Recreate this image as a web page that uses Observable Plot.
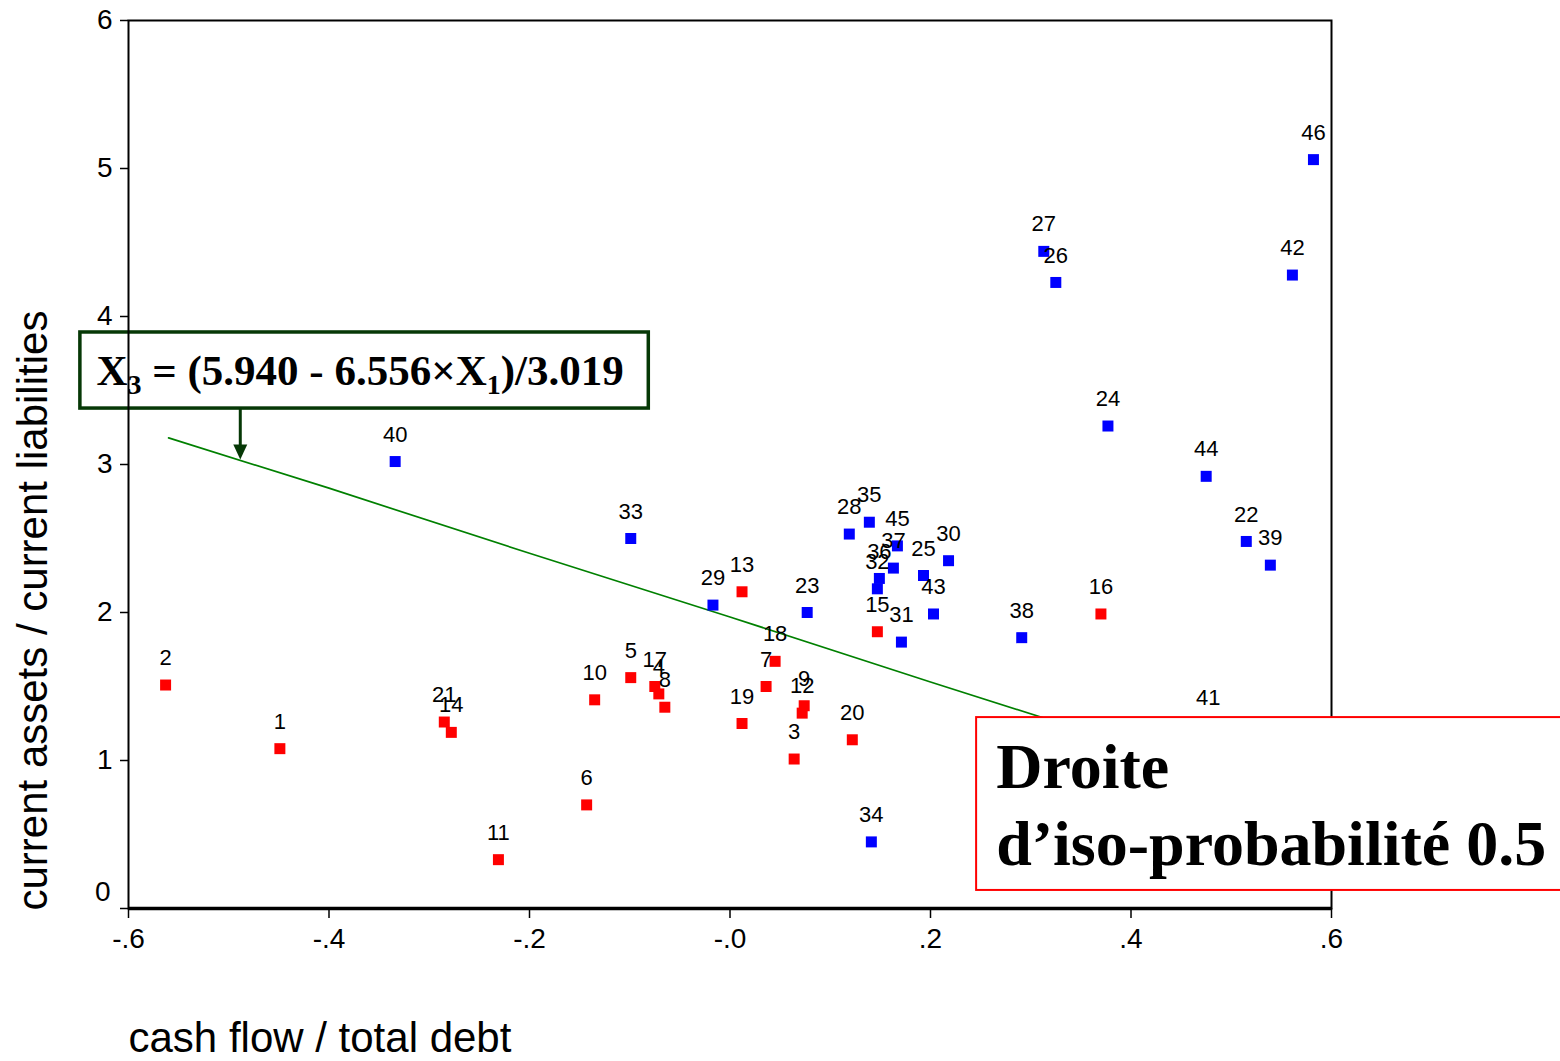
<!DOCTYPE html>
<html><head><meta charset="utf-8">
<script src="https://cdn.jsdelivr.net/npm/d3@7"></script>
<script src="https://cdn.jsdelivr.net/npm/@observablehq/plot@0.6"></script>
<style>html,body{margin:0;padding:0;background:#fff;overflow:hidden}#chart svg{display:block}</style>
</head><body><div id="chart"></div>
<script>
// ---- data ----
const ids = [1,2,3,4,5,6,7,8,9,10,11,12,13,14,15,16,17,18,19,20,21,22,23,24,25,26,27,28,29,30,31,32,33,34,35,36,37,38,39,40,41,42,43,44,45,46];
const xs = [-0.449,-0.563,0.064,-0.071,-0.099,-0.143,0.036,-0.065,0.074,-0.135,-0.231,0.072,0.012,-0.278,0.147,0.370,-0.075,0.045,0.012,0.122,-0.285,
            0.515,0.077,0.377,0.193,0.325,0.313,0.119,-0.017,0.218,0.171,0.147,-0.099,0.141,0.139,0.149,0.163,0.291,0.539,-0.334,0.477,0.561,0.203,0.475,0.167,0.582];
const ys = [1.08,1.51,1.01,1.45,1.56,0.70,1.50,1.36,1.37,1.41,0.33,1.32,2.14,1.19,1.87,1.99,1.50,1.67,1.25,1.14,1.26,
            2.48,2.00,3.26,2.25,4.23,4.44,2.53,2.05,2.35,1.80,2.16,2.50,0.45,2.61,2.23,2.30,1.83,2.32,3.02,1.24,4.28,1.99,2.92,2.45,5.06];
const groups = ["F","F","F","F","F","F","F","F","F","F","F","F","F","F","F","F","F","F","F","F","F",
                "S","S","S","S","S","S","S","S","S","S","S","S","S","S","S","S","S","S","S","S","S","S","S","S","S"];
const lineX = [-0.56,-0.40,-0.20,0.00,0.20,0.40,0.58];
const lineY = [3.18,2.84,2.40,1.97,1.53,1.10,0.71];
const xTicks = [-0.6,-0.4,-0.2,0,0.2,0.4,0.6];
const xTickLabels = ["-.6","-.4","-.2","-.0",".2",".4",".6"];
const yTicks = [0,1,2,3,4,5,6];
const xTitle = "cash flow / total debt";
const yTitle = "current assets / current liabilities";
// annotation boxes (data coordinates)
const eqBox = {x1:-0.648, x2:-0.081, y1:3.378, y2:3.892};
const eqArrow = {x:-0.488, y1:3.378, y2:3.03};
const isoBox = {x1:0.246, x2:0.86, y1:0.122, y2:1.29};
const isoText = {x:0.266, y1:0.811, y2:0.29, lines:["Droite","d\u2019iso-probabilit\u00e9 0.5"]};

const points = ids.map((id,i)=>({id, x:xs[i], y:ys[i], g:groups[i]}));
const lineData = lineX.map((x,i)=>({x, y:lineY[i]}));

const chart = Plot.plot({
  width:1560, height:1061,
  marginLeft:128, marginRight:229, marginTop:20, marginBottom:153,
  style:{fontFamily:"'Liberation Sans', Arial, sans-serif", fontSize:"28px", background:"#fff", color:"#000"},
  x:{domain:[-0.6,0.6], label:null},
  y:{domain:[0,6], label:null},
  color:{domain:["F","S"], range:["#ff0000","#0000ff"]},
  marks:[
    Plot.rect([eqBox], {x1:"x1", x2:"x2", y1:"y1", y2:"y2", fill:"#fff", stroke:"#063806", strokeWidth:3.5}),
    Plot.frame({stroke:"#000", strokeWidth:2}),
    Plot.ruleY([0], {stroke:"#000", strokeWidth:3.5}),
    Plot.axisX({ticks:xTicks, tickSize:10, tickPadding:10, fontSize:28, stroke:"#000", strokeWidth:1.5,
      tickFormat:d=>xTickLabels[xTicks.findIndex(t=>Math.abs(t-d)<1e-9)]}),
    Plot.axisY({ticks:yTicks, tickSize:8, tickPadding:8, fontSize:28, stroke:"#000", strokeWidth:1.5,
      tickFormat:d=> d===0 ? "" : String(d)}),
    Plot.text(["0"], {frameAnchor:"bottom-left", dx:-18, dy:-8, textAnchor:"end", fontSize:28}),
    Plot.line(lineData, {x:"x", y:"y", stroke:"#008000", strokeWidth:1.7}),
    Plot.dot(points, {x:"x", y:"y", symbol:"square", r:6.2, fill:"g", stroke:null}),
    Plot.text(points, {x:"x", y:"y", text:d=>String(d.id), dy:-27, fontSize:22, fill:"#000"}),
    Plot.rect([isoBox], {x1:"x1", x2:"x2", y1:"y1", y2:"y2", fill:"#fff", stroke:"#ff0000", strokeWidth:2}),
    Plot.text([xTitle], {frameAnchor:"bottom-left", dy:143, textAnchor:"start", fontSize:42}),
    Plot.text([yTitle], {frameAnchor:"bottom-left", rotate:-90, dx:-82, dy:2, textAnchor:"start", fontSize:42})
  ]
});
document.getElementById("chart").appendChild(chart);

const sx = chart.scale("x"), sy = chart.scale("y");
const svg = d3.select(chart);
const ann = svg.append("g");
// arrow
const ax = sx.apply(eqArrow.x), ay1 = sy.apply(eqArrow.y1), ay2 = sy.apply(eqArrow.y2);
ann.append("line").attr("x1",ax).attr("x2",ax).attr("y1",ay1).attr("y2",ay2-14)
  .attr("stroke","#063806").attr("stroke-width",3);
ann.append("path").attr("d",`M${ax-7},${ay2-15}L${ax+7},${ay2-15}L${ax},${ay2}Z`).attr("fill","#063806");
// equation
const ecx = (sx.apply(eqBox.x1)+sx.apply(eqBox.x2))/2;
const ecy = (sy.apply(eqBox.y1)+sy.apply(eqBox.y2))/2;
const eq = ann.append("text").attr("x",ecx-4).attr("y",ecy+15).attr("text-anchor","middle")
  .attr("font-family","'Liberation Serif','Times New Roman',serif").attr("font-weight","bold")
  .attr("font-size",43).attr("fill","#000");
eq.append("tspan").text("X");
eq.append("tspan").attr("font-size",28).attr("dy",9).text("3");
eq.append("tspan").attr("dy",-9).text(" = (5.940 - 6.556\u00d7X");
eq.append("tspan").attr("font-size",28).attr("dy",9).text("1");
eq.append("tspan").attr("dy",-9).text(")/3.019");
// iso-probability label
const it = ann.append("g").attr("font-family","'Liberation Serif','Times New Roman',serif")
  .attr("font-weight","bold").attr("font-size",64).attr("fill","#000").attr("text-anchor","start");
it.append("text").attr("x",sx.apply(isoText.x)).attr("y",sy.apply(isoText.y1)).attr("text-anchor","start").text(isoText.lines[0]);
it.append("text").attr("x",sx.apply(isoText.x)).attr("y",sy.apply(isoText.y2)).attr("text-anchor","start").text(isoText.lines[1]);
</script>
</body></html>
